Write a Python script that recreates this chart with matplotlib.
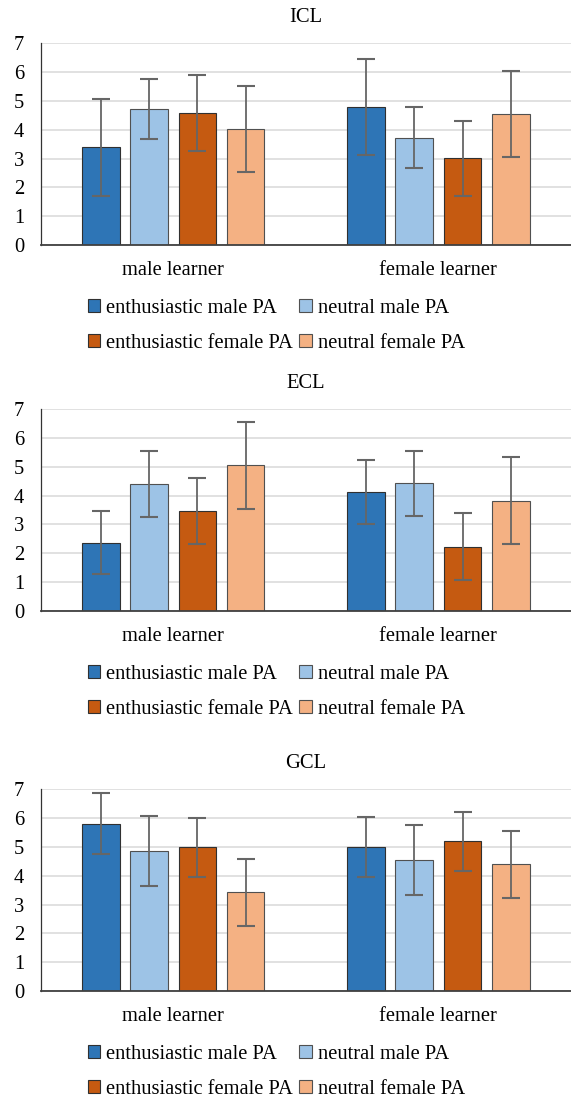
import matplotlib
matplotlib.use("Agg")
import matplotlib.pyplot as plt
import numpy as np

plt.rcParams["font.family"] = ["Liberation Serif", "DejaVu Serif"]

# Data
groups = ["male learner", "female learner"]
series = ["enthusiastic male PA", "neutral male PA",
          "enthusiastic female PA", "neutral female PA"]
colors = ["#2E75B6", "#9DC3E6", "#C55A11", "#F4B183"]
edges = ["#303030", "#505050", "#303030", "#505050"]

titles = ["ICL", "ECL", "GCL"]

# rows = series, cols = groups
icl_mean = [[3.39, 4.79], [4.72, 3.73], [4.58, 3.01], [4.02, 4.55]]
icl_err = [[1.68, 1.67], [1.05, 1.05], [1.31, 1.31], [1.50, 1.50]]

ecl_mean = [[2.37, 4.12], [4.41, 4.43], [3.47, 2.23], [5.06, 3.82]]
ecl_err = [[1.11, 1.12], [1.14, 1.13], [1.15, 1.15], [1.51, 1.51]]

gcl_mean = [[5.81, 4.99], [4.85, 4.54], [4.99, 5.19], [3.42, 4.40]]
gcl_err = [[1.05, 1.04], [1.21, 1.21], [1.03, 1.02], [1.16, 1.16]]

means = [icl_mean, ecl_mean, gcl_mean]
errs = [icl_err, ecl_err, gcl_err]

W, H = 571, 1100
fig = plt.figure(figsize=(W / 100, H / 100), dpi=100)

# panel geometry in pixels: (axes top, axes bottom, title y)
panels = [(43.3, 245.0, 17.0), (409.3, 610.7, 383.0), (789.3, 991.0, 763.0)]
left_px, right_px = 40.7, 571.0

width = 0.142
step = 0.182
x = np.arange(len(groups))
fs = 14.8

for k, (top, bot, ty) in enumerate(panels):
    ax = fig.add_axes([left_px / W, 1 - bot / H, (right_px - left_px) / W, (bot - top) / H])
    for i, name in enumerate(series):
        xs = x + (i - 1.5) * step
        ax.bar(xs, means[k][i], width, color=colors[i], edgecolor=edges[i],
               linewidth=0.8, label=name, zorder=3)
        ax.errorbar(xs, means[k][i], yerr=errs[k][i], fmt="none",
                    ecolor="#666666", elinewidth=1.3, capsize=6.5,
                    capthick=1.5, zorder=4)
    ax.set_xlim(-0.5, 1.5)
    ax.set_ylim(0, 7)
    ax.set_yticks(range(8))
    ax.set_xticks(x)
    ax.set_xticklabels(groups, fontsize=fs)
    ax.tick_params(axis="y", length=0, pad=12, labelsize=fs)
    ax.tick_params(axis="x", length=0, pad=11.5)
    ax.grid(axis="y", color="#D9D9D9", linewidth=1.1, zorder=0)
    ax.set_axisbelow(True)
    for s in ["top", "right"]:
        ax.spines[s].set_visible(False)
    ax.spines["left"].set_color("#333333")
    ax.spines["left"].set_linewidth(0.9)
    ax.spines["bottom"].set_color("#404040")
    ax.spines["bottom"].set_linewidth(1.3)
    ax.spines["bottom"].set_zorder(5)

    fig.text((left_px + right_px) / 2 / W, 1 - ty / H, titles[k],
             ha="center", va="center", fontsize=fs)

    # legend filled row by row
    h, l = ax.get_legend_handles_labels()
    order = [0, 2, 1, 3]
    ax.legend([h[j] for j in order], [l[j] for j in order],
              loc="upper left", bbox_to_anchor=(88 / W, 1 - (bot + 54) / H),
              bbox_transform=fig.transFigure, ncol=2, frameon=False,
              fontsize=fs, handlelength=0.6, handleheight=0.6,
              handletextpad=0.3, columnspacing=0.3, labelspacing=0.78,
              borderpad=0, borderaxespad=0)

fig.savefig("out.png", dpi=100)
